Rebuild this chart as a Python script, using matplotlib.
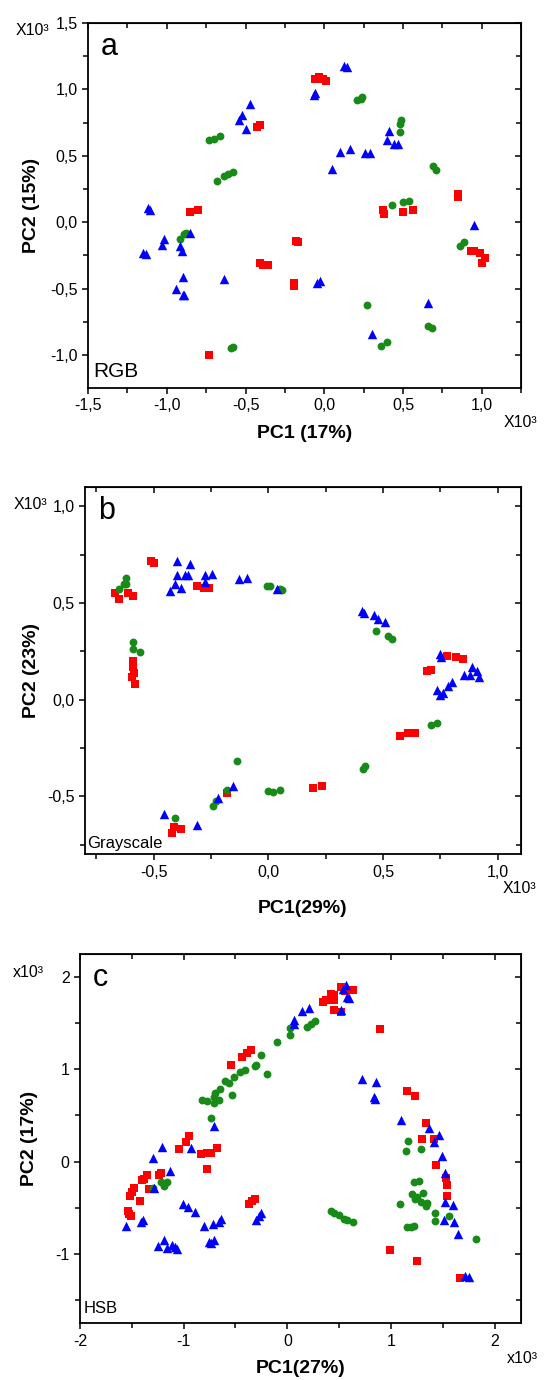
import matplotlib
matplotlib.use("Agg")
import matplotlib.pyplot as plt
import numpy as np

plt.rcParams['font.family'] = ['Liberation Sans', 'DejaVu Sans']

RED = '#ff0000'
GREEN = '#178a17'
BLUE = '#0000ff'

# ---------------- panel a (RGB) ----------------
a_red_x = [-0.057, -0.036, -0.008, 0.013, -0.43, -0.41, -0.856, -0.80, 0.37, 0.38, 0.50, 0.56, 0.85, 0.85,
           -0.17, -0.18, -0.41, -0.39, -0.36, -0.19, -0.19, -0.73, 0.93, 0.99, 1.00, 1.02, 0.95]
a_red_y = [1.08, 1.09, 1.08, 1.06, 0.72, 0.73, 0.08, 0.09, 0.09, 0.06, 0.075, 0.09, 0.21, 0.19,
           -0.15, -0.14, -0.31, -0.32, -0.32, -0.46, -0.48, -1.00, -0.22, -0.23, -0.31, -0.27, -0.22]
a_green_x = [0.21, 0.23, 0.24, -0.735, -0.70, -0.66, -0.68, -0.64, -0.61, -0.58, 0.49, 0.48, 0.48,
             0.69, 0.71, 0.43, 0.50, 0.54, -0.915, -0.894, -0.88, 0.86, 0.885, 0.27, 0.36, 0.40,
             0.66, 0.685, -0.58, -0.595]
a_green_y = [0.92, 0.93, 0.94, 0.62, 0.63, 0.65, 0.31, 0.35, 0.36, 0.38, 0.77, 0.74, 0.68,
             0.42, 0.39, 0.13, 0.15, 0.16, -0.13, -0.09, -0.08, -0.18, -0.15, -0.625, -0.935, -0.90,
             -0.785, -0.795, -0.94, -0.95]
a_blue_x = [0.123, 0.144, -0.068, -0.058, -0.47, -0.52, -0.54, -0.50, 0.41, 0.40, 0.44, 0.47,
            0.10, 0.16, 0.05, 0.26, 0.29, -1.117, -1.107, 0.95, -1.15, -1.13, -1.02, -1.03, -0.85,
            -0.915, -0.905, -0.90, -0.94, -0.90, -0.89, -0.64, -0.025, -0.047, 0.30, 0.66]
a_blue_y = [1.18, 1.17, 0.96, 0.97, 0.89, 0.81, 0.77, 0.70, 0.69, 0.62, 0.59, 0.59,
            0.53, 0.55, 0.40, 0.52, 0.52, 0.11, 0.09, -0.02, -0.23, -0.24, -0.13, -0.17, -0.08,
            -0.18, -0.22, -0.41, -0.50, -0.55, -0.55, -0.43, -0.44, -0.46, -0.84, -0.61]

# ---------------- panel b (Grayscale) ----------------
b_red_x = [-0.51, -0.50, -0.67, -0.65, -0.61, -0.59, -0.31, -0.28, -0.26, -0.59, -0.595, -0.58, -0.585,
           0.69, 0.71, 0.78, 0.82, 0.85, 0.574, 0.61, 0.64, 0.196, 0.233, -0.18, -0.42, -0.38, -0.41, -0.59]
b_red_y = [0.717, 0.705, 0.55, 0.52, 0.55, 0.535, 0.59, 0.58, 0.58, 0.20, 0.115, 0.08, 0.14,
           0.146, 0.153, 0.228, 0.22, 0.21, -0.19, -0.17, -0.17, -0.457, -0.448, -0.483, -0.69, -0.67, -0.66, 0.17]
b_green_x = [-0.65, -0.63, -0.62, -0.62, -0.59, -0.59, -0.56, -0.007, 0.007, 0.05, 0.06,
             0.47, 0.52, 0.54, 0.71, 0.734, 0.414, 0.42, -0.138, 0.0, 0.02, 0.05,
             -0.18, -0.23, -0.24, -0.407]
b_green_y = [0.575, 0.60, 0.63, 0.60, 0.30, 0.26, 0.245, 0.59, 0.587, 0.575, 0.57,
             0.354, 0.33, 0.314, -0.13, -0.12, -0.36, -0.345, -0.315, -0.474, -0.48, -0.47,
             -0.466, -0.526, -0.55, -0.61]
b_blue_x = [-0.40, -0.40, -0.407, -0.43, -0.38, -0.363, -0.35, -0.34, -0.276, -0.276, -0.247,
            -0.126, -0.094, 0.036, 0.41, 0.415, 0.46, 0.48, 0.51, 0.75, 0.755, 0.855, 0.89, 0.91,
            0.92, 0.88, 0.734, 0.763, 0.785, 0.75, 0.80, -0.156, -0.22, -0.453, -0.31]
b_blue_y = [0.72, 0.644, 0.60, 0.56, 0.58, 0.644, 0.644, 0.70, 0.644, 0.61, 0.653,
            0.627, 0.632, 0.575, 0.46, 0.45, 0.44, 0.42, 0.40, 0.236, 0.22, 0.13, 0.167, 0.15,
            0.115, 0.13, 0.05, 0.034, 0.07, 0.026, 0.09, -0.445, -0.51, -0.59, -0.65]

# ---------------- panel c (HSB) ----------------
c_red_x = [0.553, 0.637, 0.52, 0.45, 0.418, 0.37, 0.347, 0.45, 0.514, 0.45, 0.894, -0.54, -0.434,
           -0.39, -0.35, 1.15, 1.23, 1.34, 1.30, 1.41, -1.045, -0.98, -0.95, -0.836, -0.77, -0.74,
           -0.68, -0.778, -1.22, -1.24, -1.35, -1.38, -1.40, -1.33, -1.42, -1.48, -1.50, -1.52,
           -1.54, -1.53, -1.51, -0.37, -0.34, -0.315, 1.43, 1.53, 1.54, 1.54, 0.99, 1.25, 1.67]
c_red_y = [1.845, 1.856, 1.885, 1.80, 1.81, 1.75, 1.73, 1.64, 1.62, 1.75, 1.437, 1.04, 1.13,
           1.18, 1.21, 0.76, 0.71, 0.42, 0.24, 0.24, 0.14, 0.21, 0.28, 0.08, 0.09, 0.09,
           0.15, -0.08, -0.125, -0.14, -0.15, -0.19, -0.20, -0.30, -0.43, -0.28, -0.33, -0.37,
           -0.53, -0.57, -0.59, -0.46, -0.43, -0.40, -0.04, -0.18, -0.25, -0.37, -0.96, -1.07, -1.26]
c_green_x = [0.27, 0.225, 0.19, 0.03, 0.03, -0.10, -0.25, -0.305, -0.31, -0.20, -0.41, -0.455,
             -0.51, -0.56, -0.60, -0.65, -0.70, -0.71, -0.705, -0.66, -0.82, -0.77, -0.53, -0.74,
             1.16, 1.14, 1.29, -1.22, -1.19, -1.16, -1.30, 0.42, 0.45, 0.50, 0.55, 0.58, 0.63,
             1.22, 1.27, 1.20, 1.25, 1.31, 1.35, 1.34, 1.29, 1.23, 1.09, 1.15, 1.19, 1.22,
             1.42, 1.42, 1.56, 1.82]
c_green_y = [1.52, 1.49, 1.46, 1.44, 1.37, 1.29, 1.15, 1.04, 1.03, 0.95, 0.99, 0.97,
             0.92, 0.85, 0.87, 0.78, 0.74, 0.70, 0.63, 0.67, 0.67, 0.66, 0.72, 0.47,
             0.22, 0.11, 0.14, -0.22, -0.26, -0.22, -0.28, -0.53, -0.56, -0.58, -0.62, -0.63, -0.65,
             -0.22, -0.21, -0.35, -0.38, -0.34, -0.45, -0.48, -0.44, -0.40, -0.455, -0.71, -0.71, -0.70,
             -0.64, -0.56, -0.59, -0.84]
c_blue_x = [0.57, 0.54, 0.595, 0.58, 0.52, 0.06, 0.064, 0.14, 0.21, 0.72, 0.86, 0.836, 0.85,
            1.10, 1.37, 1.46, 1.41, -0.707, -1.206, -0.926, -1.30, -1.13, -1.29, -1.56, -1.41,
            -1.39, -1.01, -0.96, -0.89, -0.80, -0.72, -0.64, -0.66, -0.76, -0.71, -0.74, -1.25,
            -1.19, -1.16, -1.11, -1.08, -1.06, -0.305, -0.257, -0.27, 1.49, 1.52, 1.52, 1.60,
            1.51, 1.61, 1.65, 1.71, 1.75]
c_blue_y = [1.91, 1.87, 1.77, 1.78, 1.64, 1.53, 1.49, 1.63, 1.66, 0.89, 0.86, 0.70, 0.68,
            0.45, 0.36, 0.285, 0.21, 0.39, 0.16, 0.15, 0.04, -0.10, -0.28, -0.70, -0.65,
            -0.63, -0.455, -0.49, -0.545, -0.70, -0.68, -0.62, -0.65, -0.87, -0.85, -0.885, -0.91,
            -0.85, -0.93, -0.90, -0.92, -0.95, -0.63, -0.555, -0.59, 0.065, -0.125, -0.44, -0.47,
            -0.63, -0.65, -0.78, -1.24, -1.25]

# ticks / labels
a_xticks = [-1.5, -1.0, -0.5, 0.0, 0.5, 1.0]
a_xlabels = ['-1,5', '-1,0', '-0,5', '0,0', '0,5', '1,0']
a_yticks = [-1.0, -0.5, 0.0, 0.5, 1.0, 1.5]
a_ylabels = ['-1,0', '-0,5', '0,0', '0,5', '1,0', '1,5']
b_xticks = [-0.5, 0.0, 0.5, 1.0]
b_xlabels = ['-0,5', '0,0', '0,5', '1,0']
b_yticks = [-0.5, 0.0, 0.5, 1.0]
b_ylabels = ['-0,5', '0,0', '0,5', '1,0']
c_xticks = [-2, -1, 0, 1, 2]
c_xlabels = ['-2', '-1', '0', '1', '2']
c_yticks = [-1, 0, 1, 2]
c_ylabels = ['-1', '0', '1', '2']


def draw(ax, rx, ry, gx, gy, bx, by):
    ax.scatter(rx, ry, marker='s', s=28, color=RED, linewidths=0, zorder=3)
    ax.scatter(gx, gy, marker='o', s=32, color=GREEN, linewidths=0, zorder=3)
    ax.scatter(bx, by, marker='^', s=46, color=BLUE, linewidths=0, zorder=3)


def style(ax, xlim, ylim, xt, xl, yt, yl, xminor, yminor):
    ax.set_xlim(xlim)
    ax.set_ylim(ylim)
    ax.set_xticks(xt)
    ax.set_xticklabels(xl)
    ax.set_yticks(yt)
    ax.set_yticklabels(yl)
    ax.set_xticks(xminor, minor=True)
    ax.set_yticks(yminor, minor=True)
    ax.tick_params(which='both', direction='out', labelsize=11.5, width=1.1)
    ax.tick_params(which='major', length=4.5, pad=3)
    ax.tick_params(which='minor', length=3.5)
    for s in ax.spines.values():
        s.set_linewidth(1.3)
    top = ax.secondary_xaxis('top')
    top.set_xticks(xt)
    top.set_xticks(xminor, minor=True)
    top.tick_params(which='both', direction='in', labeltop=False, width=1.1)
    top.tick_params(which='major', length=4.5)
    top.tick_params(which='minor', length=3.5)
    right = ax.secondary_yaxis('right')
    right.set_yticks(yt)
    right.set_yticks(yminor, minor=True)
    right.tick_params(which='both', direction='in', labelright=False, width=1.1)
    right.tick_params(which='major', length=4.5)
    right.tick_params(which='minor', length=3.5)


fig = plt.figure(figsize=(5.44, 13.8), dpi=100)

ax1 = fig.add_axes([0.162, 0.7188, 0.796, 0.2645])
ax2 = fig.add_axes([0.156, 0.381, 0.801, 0.266])
ax3 = fig.add_axes([0.147, 0.041, 0.810, 0.268])

draw(ax1, a_red_x, a_red_y, a_green_x, a_green_y, a_blue_x, a_blue_y)
style(ax1, (-1.5, 1.25), (-1.25, 1.5), a_xticks, a_xlabels, a_yticks, a_ylabels,
      np.arange(-1.25, 1.3, 0.5), np.arange(-0.75, 1.5, 0.5))
draw(ax2, b_red_x, b_red_y, b_green_x, b_green_y, b_blue_x, b_blue_y)
style(ax2, (-0.8, 1.1), (-0.8, 1.1), b_xticks, b_xlabels, b_yticks, b_ylabels,
      np.arange(-0.75, 1.1, 0.5), np.arange(-0.75, 1.1, 0.5))
draw(ax3, c_red_x, c_red_y, c_green_x, c_green_y, c_blue_x, c_blue_y)
style(ax3, (-2, 2.25), (-1.75, 2.25), c_xticks, c_xlabels, c_yticks, c_ylabels,
      np.arange(-1.5, 2.3, 1.0), np.arange(-1.5, 2.3, 1.0))

# axis titles
ax1.set_xlabel('PC1 (17%)', fontsize=14, fontweight='bold')
ax1.set_ylabel('PC2 (15%)', fontsize=14, fontweight='bold')
ax1.xaxis.set_label_coords(0.5, -0.1)
ax1.yaxis.set_label_coords(-0.11, 0.5)
ax2.set_xlabel('PC1(29%)', fontsize=14, fontweight='bold')
ax2.set_ylabel('PC2 (23%)', fontsize=14, fontweight='bold')
ax2.xaxis.set_label_coords(0.5, -0.125)
ax2.yaxis.set_label_coords(-0.103, 0.5)
ax3.set_xlabel('PC1(27%)', fontsize=14, fontweight='bold')
ax3.set_ylabel('PC2 (17%)', fontsize=14, fontweight='bold')
ax3.xaxis.set_label_coords(0.5, -0.1)
ax3.yaxis.set_label_coords(-0.095, 0.5)

# panel letters and captions
ax1.text(0.03, 0.975, 'a', transform=ax1.transAxes, fontsize=22, va='top')
ax2.text(0.03, 0.975, 'b', transform=ax2.transAxes, fontsize=22, va='top')
ax3.text(0.03, 0.975, 'c', transform=ax3.transAxes, fontsize=22, va='top')
ax1.text(0.012, 0.03, 'RGB', transform=ax1.transAxes, fontsize=15, va='baseline')
ax2.text(0.005, 0.017, 'Grayscale', transform=ax2.transAxes, fontsize=12, va='baseline')
ax3.text(0.009, 0.028, 'HSB', transform=ax3.transAxes, fontsize=12, va='baseline')

# x10^3 multipliers
ax1.text(-0.129, 0.98, 'X10³', transform=ax1.transAxes, fontsize=11.5, ha='center', va='center')
ax1.text(0.998, -0.095, 'X10³', transform=ax1.transAxes, fontsize=11.5, ha='center', va='center')
ax2.text(-0.124, 0.952, 'X10³', transform=ax2.transAxes, fontsize=11.5, ha='center', va='center')
ax2.text(0.998, -0.093, 'X10³', transform=ax2.transAxes, fontsize=11.5, ha='center', va='center')
ax3.text(-0.118, 0.949, 'x10³', transform=ax3.transAxes, fontsize=11.5, ha='center', va='center')
ax3.text(1.005, -0.094, 'x10³', transform=ax3.transAxes, fontsize=11.5, ha='center', va='center')

fig.savefig('out.png', dpi=100)
